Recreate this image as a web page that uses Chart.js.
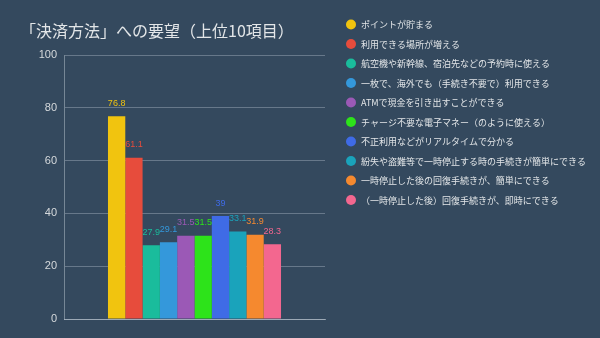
<!DOCTYPE html>
<html><head><meta charset="utf-8">
<script src="https://cdn.jsdelivr.net/npm/chart.js@4"></script>
<style>
html,body{margin:0;padding:0;background:#34495e;}
#wrap{position:relative;width:600px;height:338px;}
canvas{display:block;}
</style></head>
<body><div id="wrap"><canvas id="c" width="600" height="338"></canvas></div>
<script>
const chartTitle = "「決済方法」への要望（上位10項目）";
const categories = [""];
const seriesLabels = [
  "ポイントが貯まる",
  "利用できる場所が増える",
  "航空機や新幹線、宿泊先などの予約時に使える",
  "一枚で、海外でも（手続き不要で）利用できる",
  "ATMで現金を引き出すことができる",
  "チャージ不要な電子マネー（のように使える）",
  "不正利用などがリアルタイムで分かる",
  "紛失や盗難等で一時停止する時の手続きが簡単にできる",
  "一時停止した後の回復手続きが、簡単にできる",
  "（一時停止した後）回復手続きが、即時にできる"
];
const seriesValues = [76.8, 61.1, 27.9, 29.1, 31.5, 31.5, 39, 33.1, 31.9, 28.3];
const seriesColors = ["#f1c40f","#e74c3c","#1abc9c","#3498db","#9b59b6","#2de31a","#3f6be6","#1aa3bb","#f5892f","#f3678f"];
const yTicks = [0, 20, 40, 60, 80, 100];

const FONT = "'Noto Sans CJK JP', 'Noto Sans', sans-serif";

const datasets = seriesLabels.map((lab, i) => ({
  label: lab,
  data: [seriesValues[i]],
  backgroundColor: seriesColors[i],
  borderWidth: 0
}));

const extras = {
  id: 'extras',
  afterDatasetsDraw(chart) {
    const ctx = chart.ctx;
    ctx.save();
    // value labels
    ctx.font = "9px 'Liberation Sans', " + FONT;
    ctx.textAlign = 'center';
    ctx.textBaseline = 'middle';
    chart.data.datasets.forEach((ds, i) => {
      const meta = chart.getDatasetMeta(i);
      meta.data.forEach((el, j) => {
        ctx.fillStyle = ds.backgroundColor;
        ctx.fillText(String(ds.data[j]), el.x, el.y - 13);
      });
    });
    // title
    ctx.font = "16px " + FONT;
    ctx.textAlign = 'left';
    ctx.fillStyle = '#e3e6e8';
    ctx.fillText(chartTitle, 20, 31);
    // legend
    ctx.font = "9px " + FONT;
    chart.data.datasets.forEach((ds, i) => {
      const y = 24.5 + i * 19.5;
      ctx.beginPath();
      ctx.arc(351, y, 5, 0, Math.PI * 2);
      ctx.fillStyle = ds.backgroundColor;
      ctx.fill();
      ctx.fillStyle = '#e3e6e8';
      ctx.fillText(ds.label, 361, y + 0.5);
    });
    ctx.restore();
  }
};

new Chart(document.getElementById('c'), {
  type: 'bar',
  data: { labels: categories, datasets },
  options: {
    responsive: false,
    animation: false,
    devicePixelRatio: 1,
    layout: { padding: { left: 0, right: 275, top: 55, bottom: 19 } },
    plugins: { legend: { display: false }, tooltip: { enabled: false }, title: { display: false } },
    datasets: { bar: { categoryPercentage: 0.663, barPercentage: 1.0 } },
    scales: {
      x: {
        ticks: { display: false },
        grid: { display: false, drawTicks: false },
        border: { display: true, color: 'rgba(200,210,220,0.55)', width: 1 }
      },
      y: {
        min: 0, max: 100,
        afterFit(scale) { scale.width = 64; },
        afterBuildTicks(scale) { scale.ticks = yTicks.map(v => ({ value: v })); },
        ticks: { color: '#d5d9dc', font: { size: 11, family: "'Liberation Sans', " + FONT }, padding: 7 },
        grid: { color: 'rgba(200,210,220,0.35)', drawTicks: false },
        border: { display: true, color: 'rgba(200,210,220,0.45)' }
      }
    }
  },
  plugins: [extras]
});
</script></body></html>
